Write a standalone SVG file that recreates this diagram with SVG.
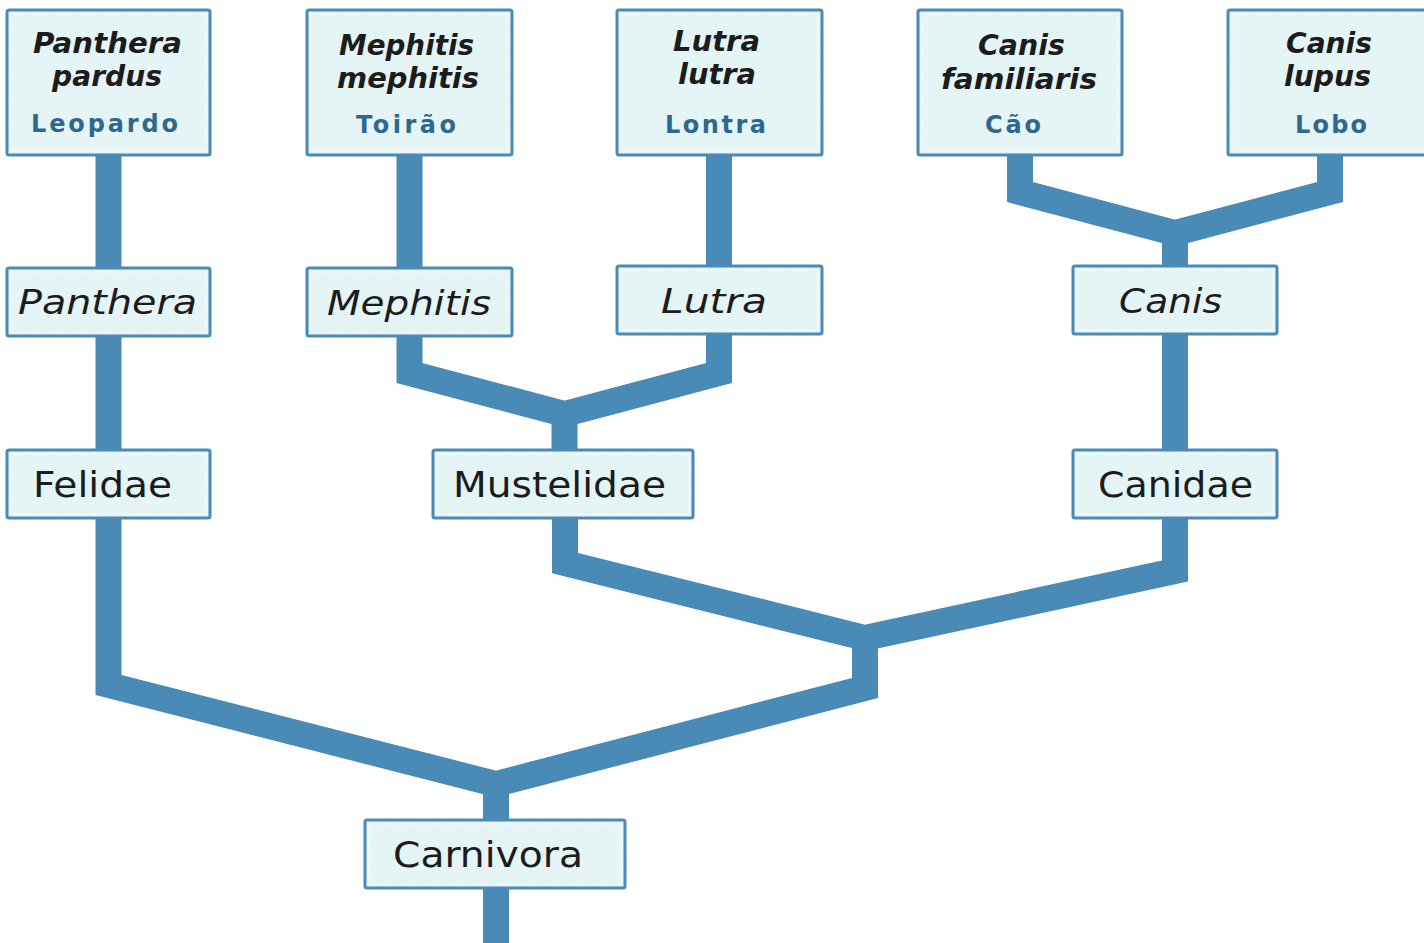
<svg xmlns="http://www.w3.org/2000/svg" width="1424" height="943" viewBox="0 0 1424 943">
<style>
.bg{fill:#ffffff}
.ln{fill:none;stroke:#4a8ab6;stroke-width:26;stroke-linejoin:miter;stroke-miterlimit:10}
.bx{fill:#e5f5f6;stroke:#4a8ab8;stroke-width:3}
.in{fill:none;stroke:#ffffff;stroke-width:1;stroke-dasharray:1.5 1.5}
text{font-family:"DejaVu Sans","Liberation Sans",sans-serif;text-anchor:middle}
.sp{font-size:29px;font-weight:bold;font-style:italic;fill:#1c1c1c}
.cn{font-size:24px;font-weight:bold;fill:#2e6891}
.gn{font-size:34px;font-style:italic;fill:#1c1c1c}
.fm{font-size:36px;fill:#1c1c1c}
</style>
<rect class="bg" x="0" y="0" width="1424" height="943"/>
<g id="connectors">
<polyline class="ln" points="108.5,150 108.5,272"/>
<polyline class="ln" points="108.5,332 108.5,454"/>
<polyline class="ln" points="409.5,150 409.5,272"/>
<polyline class="ln" points="719,150 719,270"/>
<polyline class="ln" points="409.5,332 409.5,373 564.5,414 719,373 719,330"/>
<polyline class="ln" points="564.5,414 564.5,454"/>
<polyline class="ln" points="1020,150 1020,192 1175,233 1330,192 1330,150"/>
<polyline class="ln" points="1175,233 1175,270"/>
<polyline class="ln" points="1175,330 1175,454"/>
<polyline class="ln" points="565,514 565,563 865,638 1175,571 1175,514"/>
<polyline class="ln" points="108.5,514 108.5,685 496,784 865,688 865,638"/>
<polyline class="ln" points="496,784 496,824"/>
<polyline class="ln" points="496,884 496,950"/>
</g>
<g id="panthera-pardus">
<rect class="bx" x="7" y="10" width="203" height="145" rx="2"/>
<rect class="in" x="11" y="14" width="195" height="137"/>
<text class="sp" x="107.5" y="53" textLength="149" lengthAdjust="spacingAndGlyphs">Panthera</text>
<text class="sp" x="107" y="86" textLength="110" lengthAdjust="spacingAndGlyphs">pardus</text>
<text class="cn" x="104.5" y="132" textLength="147" lengthAdjust="spacing">Leopardo</text>
</g>
<g id="mephitis-mephitis">
<rect class="bx" x="307" y="10" width="205" height="145" rx="2"/>
<rect class="in" x="311" y="14" width="197" height="137"/>
<text class="sp" x="406.5" y="55" textLength="135" lengthAdjust="spacingAndGlyphs">Mephitis</text>
<text class="sp" x="408" y="88" textLength="142" lengthAdjust="spacingAndGlyphs">mephitis</text>
<text class="cn" x="406" y="133" textLength="100" lengthAdjust="spacing">Toirão</text>
</g>
<g id="lutra-lutra">
<rect class="bx" x="617" y="10" width="205" height="145" rx="2"/>
<rect class="in" x="621" y="14" width="197" height="137"/>
<text class="sp" x="716.5" y="51" textLength="87" lengthAdjust="spacingAndGlyphs">Lutra</text>
<text class="sp" x="717" y="84" textLength="78" lengthAdjust="spacingAndGlyphs">lutra</text>
<text class="cn" x="715.5" y="133" textLength="101" lengthAdjust="spacing">Lontra</text>
</g>
<g id="canis-familiaris">
<rect class="bx" x="918" y="10" width="204" height="145" rx="2"/>
<rect class="in" x="922" y="14" width="196" height="137"/>
<text class="sp" x="1021.5" y="55" textLength="87" lengthAdjust="spacingAndGlyphs">Canis</text>
<text class="sp" x="1019" y="89" textLength="156" lengthAdjust="spacingAndGlyphs">familiaris</text>
<text class="cn" x="1013" y="133" textLength="56" lengthAdjust="spacing">Cão</text>
</g>
<g id="canis-lupus">
<rect class="bx" x="1228" y="10" width="204" height="145" rx="2"/>
<rect class="in" x="1232" y="14" width="196" height="137"/>
<text class="sp" x="1329" y="53" textLength="86" lengthAdjust="spacingAndGlyphs">Canis</text>
<text class="sp" x="1327.5" y="86" textLength="87" lengthAdjust="spacingAndGlyphs">lupus</text>
<text class="cn" x="1331" y="133" textLength="72" lengthAdjust="spacing">Lobo</text>
</g>
<g id="panthera">
<rect class="bx" x="7" y="268" width="203" height="68" rx="2"/>
<rect class="in" x="11" y="272" width="195" height="60"/>
<text class="gn" x="107.5" y="314" textLength="179" lengthAdjust="spacingAndGlyphs">Panthera</text>
</g>
<g id="mephitis">
<rect class="bx" x="307" y="268" width="205" height="68" rx="2"/>
<rect class="in" x="311" y="272" width="197" height="60"/>
<text class="gn" x="409" y="315" textLength="164" lengthAdjust="spacingAndGlyphs">Mephitis</text>
</g>
<g id="lutra">
<rect class="bx" x="617" y="266" width="205" height="68" rx="2"/>
<rect class="in" x="621" y="270" width="197" height="60"/>
<text class="gn" x="714" y="313" textLength="106" lengthAdjust="spacingAndGlyphs">Lutra</text>
</g>
<g id="canis">
<rect class="bx" x="1073" y="266" width="204" height="68" rx="2"/>
<rect class="in" x="1077" y="270" width="196" height="60"/>
<text class="gn" x="1170.5" y="313" textLength="103" lengthAdjust="spacingAndGlyphs">Canis</text>
</g>
<g id="felidae">
<rect class="bx" x="7" y="450" width="203" height="68" rx="2"/>
<rect class="in" x="11" y="454" width="195" height="60"/>
<text class="fm" x="102.5" y="497" textLength="139" lengthAdjust="spacingAndGlyphs">Felidae</text>
</g>
<g id="mustelidae">
<rect class="bx" x="433" y="450" width="260" height="68" rx="2"/>
<rect class="in" x="437" y="454" width="252" height="60"/>
<text class="fm" x="559.5" y="497" textLength="213" lengthAdjust="spacingAndGlyphs">Mustelidae</text>
</g>
<g id="canidae">
<rect class="bx" x="1073" y="450" width="204" height="68" rx="2"/>
<rect class="in" x="1077" y="454" width="196" height="60"/>
<text class="fm" x="1175.5" y="497" textLength="155" lengthAdjust="spacingAndGlyphs">Canidae</text>
</g>
<g id="carnivora">
<rect class="bx" x="365" y="820" width="260" height="68" rx="2"/>
<rect class="in" x="369" y="824" width="252" height="60"/>
<text class="fm" x="488" y="867" textLength="190" lengthAdjust="spacingAndGlyphs">Carnivora</text>
</g>
</svg>
